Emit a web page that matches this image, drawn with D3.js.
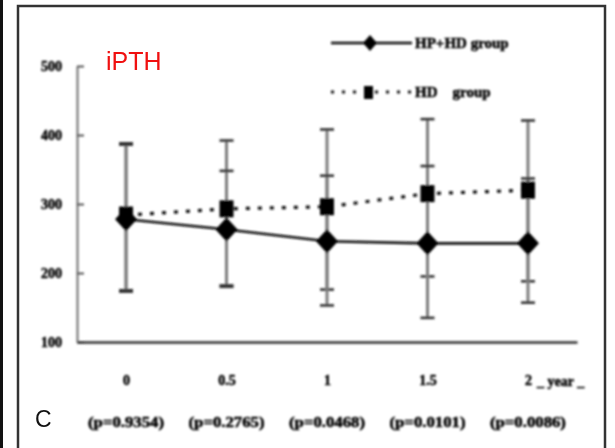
<!DOCTYPE html>
<html>
<head>
<meta charset="utf-8">
<script src="https://cdn.jsdelivr.net/npm/d3@7"></script>
<style>
  html, body { margin: 0; padding: 0; background: #fff; }
  svg { display: block; }
</style>
</head>
<body>
<script>
// Follow-up times (years) and the p value of the group comparison at each time
const times = [0, 0.5, 1, 1.5, 2];
const timeLabels = ["0", "0.5", "1", "1.5", "2"];
const pLabels = ["(p=0.9354)", "(p=0.2765)", "(p=0.0468)", "(p=0.0101)", "(p=0.0086)"];
const yTicks = [100, 200, 300, 400, 500];

// iPTH, HP+HD group: mean with upper / lower error-bar ends
const hphdMean  = [278, 263, 246, 243, 243];
const hphdUpper = [386, 348, 341, 355, 337];
const hphdLower = [175, 182, 153, 135, 157];

// iPTH, HD group: mean with upper / lower error-bar ends
const hdMean  = [284, 293, 296, 315, 320];
const hdUpper = [388, 392, 408, 423, 421];
const hdLower = [173, 180, 176, 195, 188];

const W = 615, H = 448;
const svg = d3.select("body").append("svg").attr("width", W).attr("height", H);

// blur for the scanned figure body
const defs = svg.append("defs");
defs.append("filter").attr("id", "soft")
  .attr("x", "-5%").attr("y", "-5%").attr("width", "110%").attr("height", "110%")
  .append("feGaussianBlur").attr("stdDeviation", 0.8);

svg.append("rect").attr("width", W).attr("height", H).attr("fill", "#fff");

// panel frame and neighbouring panel edge
svg.append("line").attr("x1", 1.5).attr("x2", 1.5).attr("y1", 0).attr("y2", H)
  .attr("stroke", "#111").attr("stroke-width", 3);
svg.append("rect").attr("x", 18).attr("y", 6).attr("width", 587).attr("height", 470)
  .attr("fill", "none").attr("stroke", "#333").attr("stroke-width", 2.5);

const g = svg.append("g").attr("filter", "url(#soft)");

const x = d3.scaleLinear().domain([-0.244, 2.244]).range([77, 577]);
const y = d3.scaleLinear().domain([100, 500]).range([342, 66]);

const serif = "'Liberation Serif', 'Times New Roman', serif";

// heavy serif labels of the figure body
function heavy(sel, size) {
  sel.attr("font-family", serif).attr("font-weight", "bold").attr("font-size", size)
    .attr("fill", "#000").attr("stroke", "#000").attr("stroke-width", 0.5);
  return sel;
}

// y axis: inward ticks
const yAxis = g.append("g").attr("transform", "translate(77,0)")
  .call(d3.axisLeft(y).tickValues(yTicks).tickSizeInner(-7).tickSizeOuter(0).tickPadding(15));
yAxis.select(".domain").attr("stroke", "#7a7a7a").attr("stroke-width", 2.2);
yAxis.selectAll(".tick line").attr("stroke", "#555").attr("stroke-width", 2);
heavy(yAxis.selectAll(".tick text"), 14);

// x axis: plain baseline with time labels below
const xAxis = g.append("g").attr("transform", "translate(0,342)")
  .call(d3.axisBottom(x).tickValues(times).tickFormat((d, i) => timeLabels[i])
    .tickSize(0).tickPadding(33));
xAxis.select(".domain").attr("stroke", "#333").attr("stroke-width", 2.6);
heavy(xAxis.selectAll(".tick text"), 14);

// p values under the time labels
heavy(g.append("g").selectAll("text").data(pLabels).join("text")
  .attr("x", (d, i) => x(times[i])).attr("y", 427)
  .attr("text-anchor", "middle")
  .attr("textLength", 76).attr("lengthAdjust", "spacingAndGlyphs")
  .text(d => d), 14);

// axis unit after the last time label
heavy(g.append("text").attr("x", 537).attr("y", 386)
  .attr("xml:space", "preserve").style("white-space", "pre")
  .text("_ year _"), 14);

// error bars for both groups
function errorBars(upper, lower) {
  const eb = g.append("g");
  eb.selectAll("line.bar").data(times).join("line").attr("class", "bar")
    .attr("x1", d => x(d)).attr("x2", d => x(d))
    .attr("y1", (d, i) => y(upper[i])).attr("y2", (d, i) => y(lower[i]))
    .attr("stroke", "#7d7d7d").attr("stroke-width", 3);
  [upper, lower].forEach(arr => {
    eb.selectAll(null).data(times).join("line")
      .attr("x1", d => x(d) - 7).attr("x2", d => x(d) + 7)
      .attr("y1", (d, i) => y(arr[i])).attr("y2", (d, i) => y(arr[i]))
      .attr("stroke", "#333").attr("stroke-width", 2.6);
  });
}
errorBars(hdUpper, hdLower);
errorBars(hphdUpper, hphdLower);

const line = d3.line().x(d => x(d[0])).y(d => y(d[1]));

// HD group: dotted line with squares
g.append("path").datum(times.map((t, i) => [t, hdMean[i]]))
  .attr("d", line).attr("fill", "none").attr("stroke", "#111")
  .attr("stroke-width", 3.2).attr("stroke-dasharray", "4,8");
g.append("g").selectAll("rect").data(times).join("rect")
  .attr("x", d => x(d) - 7).attr("y", (d, i) => y(hdMean[i]) - 8.5)
  .attr("width", 14).attr("height", 17).attr("fill", "#000");

// HP+HD group: solid line with diamonds
g.append("path").datum(times.map((t, i) => [t, hphdMean[i]]))
  .attr("d", line).attr("fill", "none").attr("stroke", "#111").attr("stroke-width", 2.6);
const diamond = "M0,-12L11,0L0,12L-11,0Z";
g.append("g").selectAll("path").data(times).join("path")
  .attr("transform", (d, i) => `translate(${x(d)},${y(hphdMean[i])})`)
  .attr("d", diamond).attr("fill", "#000");

// legend
const lg = g.append("g");
lg.append("line").attr("x1", 331).attr("x2", 412).attr("y1", 43).attr("y2", 43)
  .attr("stroke", "#111").attr("stroke-width", 2.6);
lg.append("path").attr("transform", "translate(370,43)").attr("d", "M0,-8L7,0L0,8L-7,0Z").attr("fill", "#000");
heavy(lg.append("text").attr("x", 415).attr("y", 48).text("HP+HD group"), 15);
lg.append("line").attr("x1", 331).attr("x2", 412).attr("y1", 92).attr("y2", 92)
  .attr("stroke", "#111").attr("stroke-width", 3).attr("stroke-dasharray", "3,8");
lg.append("rect").attr("x", 364).attr("y", 86).attr("width", 9).attr("height", 13).attr("fill", "#000");
heavy(lg.append("text").attr("x", 415).attr("y", 97)
  .attr("xml:space", "preserve").style("white-space", "pre")
  .text("HD    group"), 15);

// panel title and panel letter
svg.append("text").attr("x", 106).attr("y", 70)
  .attr("font-family", "'Liberation Sans', Arial, sans-serif").attr("font-size", 25)
  .attr("fill", "#f01010").text("iPTH");
svg.append("text").attr("x", 35).attr("y", 427)
  .attr("font-family", "'Liberation Sans', Arial, sans-serif").attr("font-size", 23)
  .attr("fill", "#111").text("C");
</script>
</body>
</html>
